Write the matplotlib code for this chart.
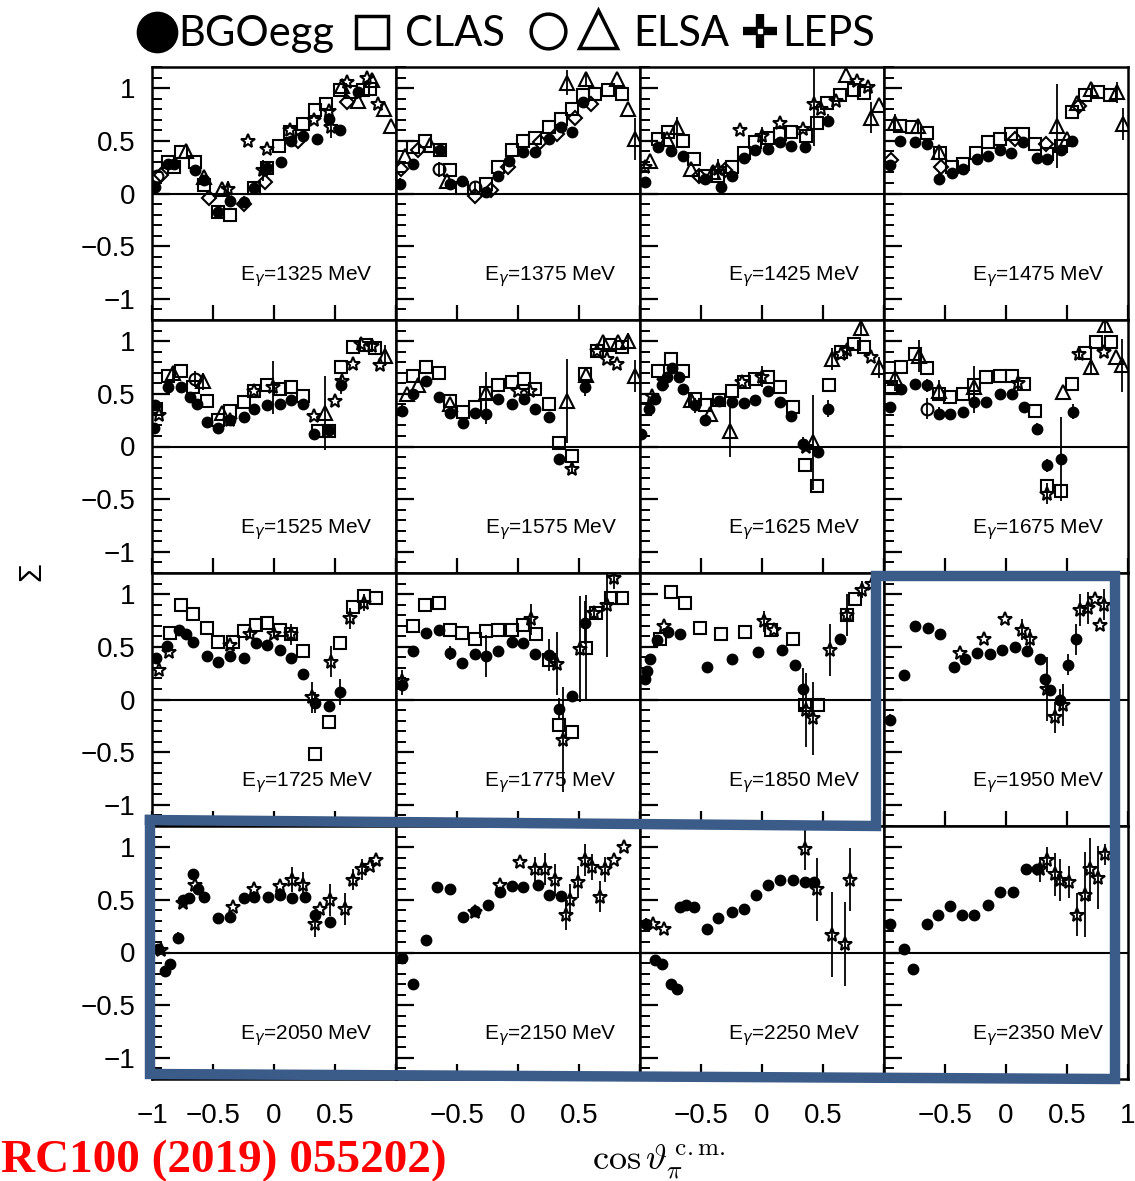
import matplotlib
matplotlib.use("Agg")
import matplotlib.pyplot as plt
from matplotlib.ticker import FixedLocator, MultipleLocator

plt.rcParams['font.family'] = ['Liberation Sans', 'DejaVu Sans']
plt.rcParams['mathtext.fontset'] = 'dejavusans'

energies = [1325, 1375, 1425, 1475,
            1525, 1575, 1625, 1675,
            1725, 1775, 1850, 1950,
            2050, 2150, 2250, 2350]

# beam asymmetry points per energy: (cos theta, Sigma[, error])
bgo = {
    1325: [(-0.975, 0.06, 0.06), (-0.87, 0.28), (-0.82, 0.28), (-0.65, 0.22), (-0.57, 0.13),
           (-0.46, -0.18), (-0.36, -0.07), (-0.25, -0.08), (-0.16, 0.05), (-0.06, 0.24),
           (0.06, 0.30), (0.14, 0.50), (0.24, 0.55), (0.35, 0.52), (0.45, 0.71), (0.54, 0.60),
           (0.69, 0.96)],
    1375: [(-0.97, 0.09, 0.06), (-0.86, 0.28), (-0.64, 0.41), (-0.56, 0.09, 0.05), (-0.46, 0.12),
           (-0.26, 0.01), (-0.16, 0.17), (-0.07, 0.31), (0.04, 0.39), (0.14, 0.39), (0.25, 0.52),
           (0.35, 0.63), (0.44, 0.58, 0.05), (0.53, 0.87, 0.05)],
    1425: [(-0.96, 0.11, 0.05), (-0.85, 0.44), (-0.75, 0.40), (-0.645, 0.36), (-0.47, 0.14),
           (-0.34, 0.06), (-0.25, 0.17), (-0.15, 0.34), (-0.06, 0.41), (0.05, 0.42), (0.15, 0.49),
           (0.24, 0.45), (0.35, 0.44), (0.54, 0.69, 0.06)],
    1475: [(-0.95, 0.27, 0.05), (-0.87, 0.50), (-0.75, 0.49), (-0.65, 0.47), (-0.55, 0.14, 0.05),
           (-0.445, 0.19), (-0.35, 0.23), (-0.24, 0.33), (-0.15, 0.36), (-0.05, 0.41), (0.04, 0.38),
           (0.14, 0.49), (0.25, 0.34), (0.34, 0.33), (0.45, 0.41), (0.54, 0.50, 0.05)],
    1525: [(-0.98, 0.18), (-0.975, 0.39), (-0.87, 0.56), (-0.76, 0.56), (-0.69, 0.47), (-0.63, 0.40),
           (-0.55, 0.23, 0.05), (-0.46, 0.18), (-0.36, 0.25), (-0.25, 0.28), (-0.16, 0.36),
           (-0.06, 0.39), (0.05, 0.40), (0.14, 0.44), (0.24, 0.40), (0.33, 0.12), (0.45, 0.16),
           (0.55, 0.58, 0.08)],
    1575: [(-0.95, 0.34, 0.05), (-0.86, 0.50), (-0.75, 0.62), (-0.65, 0.47), (-0.56, 0.32, 0.05),
           (-0.45, 0.22), (-0.35, 0.32), (-0.26, 0.31, 0.1), (-0.16, 0.45), (-0.05, 0.40),
           (0.05, 0.45), (0.14, 0.36), (0.25, 0.28), (0.34, -0.12, 0.05), (0.55, 0.56, 0.08)],
    1625: [(-0.99, 0.12), (-0.93, 0.36), (-0.88, 0.45), (-0.82, 0.58), (-0.78, 0.66), (-0.74, 0.74),
           (-0.68, 0.66), (-0.65, 0.55), (-0.55, 0.39, 0.07), (-0.47, 0.25), (-0.35, 0.43),
           (-0.25, 0.42), (-0.15, 0.41), (-0.06, 0.44), (0.05, 0.53), (0.15, 0.42), (0.24, 0.29),
           (0.34, 0.02, 0.07), (0.46, -0.05, 0.06), (0.54, 0.36, 0.08)],
    1675: [(-0.95, 0.37, 0.05), (-0.86, 0.55), (-0.75, 0.59), (-0.65, 0.58, 0.06), (-0.55, 0.31, 0.06),
           (-0.46, 0.31), (-0.35, 0.33), (-0.26, 0.42, 0.1), (-0.16, 0.42), (-0.05, 0.50),
           (0.05, 0.50), (0.15, 0.37), (0.25, 0.17, 0.05), (0.34, -0.18, 0.06), (0.45, -0.12, 0.4),
           (0.55, 0.33, 0.07)],
    1725: [(-0.97, 0.39), (-0.88, 0.51), (-0.78, 0.66), (-0.72, 0.62), (-0.66, 0.55), (-0.55, 0.41, 0.05),
           (-0.46, 0.36), (-0.36, 0.41), (-0.25, 0.39), (-0.15, 0.54), (-0.06, 0.52), (0.05, 0.47),
           (0.14, 0.39), (0.24, 0.24, 0.05), (0.34, -0.03, 0.1), (0.45, -0.06, 0.06), (0.54, 0.07, 0.12)],
    1775: [(-0.95, 0.14, 0.1), (-0.86, 0.46), (-0.75, 0.63), (-0.65, 0.66), (-0.56, 0.44, 0.07),
           (-0.46, 0.35), (-0.35, 0.43), (-0.26, 0.41, 0.2), (-0.16, 0.46), (-0.05, 0.55), (0.04, 0.54),
           (0.14, 0.43), (0.25, 0.42, 0.15), (0.34, -0.09, 0.1), (0.44, 0.03, 0.05), (0.55, 0.73, 0.2)],
    1850: [(-0.96, 0.19), (-0.94, 0.27), (-0.92, 0.38), (-0.86, 0.56), (-0.77, 0.64), (-0.67, 0.62),
           (-0.45, 0.31), (-0.25, 0.38), (-0.03, 0.45), (0.16, 0.47), (0.27, 0.33), (0.34, 0.10, 0.2),
           (0.64, 0.57)],
    1950: [(-0.95, -0.19, 0.05), (-0.84, 0.23), (-0.75, 0.70), (-0.64, 0.68), (-0.54, 0.62), (-0.43, 0.31),
           (-0.34, 0.38), (-0.24, 0.44), (-0.13, 0.43), (-0.03, 0.47), (0.07, 0.50), (0.17, 0.46),
           (0.28, 0.38), (0.32, 0.19), (0.36, 0.09), (0.44, 0.0, 0.1), (0.51, 0.33, 0.1), (0.57, 0.57, 0.15)],
    2050: [(-0.95, 0.03), (-0.89, -0.18), (-0.85, -0.11), (-0.79, 0.14, 0.05), (-0.75, 0.50), (-0.70, 0.52),
           (-0.66, 0.74), (-0.62, 0.60), (-0.57, 0.53), (-0.46, 0.33), (-0.36, 0.34), (-0.25, 0.52),
           (-0.16, 0.53), (-0.05, 0.53), (0.05, 0.55), (0.15, 0.52), (0.25, 0.53), (0.34, 0.36), (0.46, 0.29)],
    2150: [(-0.95, -0.05, 0.05), (-0.86, -0.30), (-0.75, 0.12), (-0.66, 0.62), (-0.56, 0.60), (-0.45, 0.34),
           (-0.35, 0.39), (-0.25, 0.45), (-0.15, 0.57), (-0.05, 0.63), (0.04, 0.62), (0.16, 0.64),
           (0.25, 0.55), (0.35, 0.54)],
    2250: [(-0.95, 0.27, 0.06), (-0.88, -0.07), (-0.82, -0.11), (-0.75, -0.30), (-0.70, -0.35), (-0.67, 0.43),
           (-0.62, 0.45), (-0.56, 0.43), (-0.45, 0.22), (-0.36, 0.33), (-0.25, 0.38), (-0.15, 0.41),
           (-0.05, 0.55), (0.05, 0.64), (0.15, 0.69), (0.25, 0.69), (0.35, 0.67), (0.43, 0.67)],
    2350: [(-0.95, 0.27), (-0.84, 0.03), (-0.76, -0.16), (-0.65, 0.27), (-0.56, 0.36), (-0.46, 0.44),
           (-0.36, 0.36), (-0.26, 0.36), (-0.15, 0.45), (-0.05, 0.57), (0.06, 0.57), (0.16, 0.79),
           (0.25, 0.79)],
}

clas = {
    1325: [(-0.87, 0.30), (-0.82, 0.25), (-0.76, 0.39), (-0.65, 0.30), (-0.57, 0.08), (-0.46, -0.18),
           (-0.36, -0.20), (-0.16, 0.05), (-0.06, 0.24), (0.04, 0.45), (0.13, 0.58), (0.24, 0.66),
           (0.34, 0.79), (0.43, 0.85), (0.54, 0.98), (0.63, 0.96), (0.73, 0.98), (0.79, 0.99)],
    1375: [(-0.86, 0.44), (-0.76, 0.50), (-0.64, 0.41), (-0.56, 0.22), (-0.46, 0.05), (-0.26, 0.09),
           (-0.16, 0.25), (-0.05, 0.41), (0.04, 0.50), (0.14, 0.53), (0.25, 0.63), (0.35, 0.71),
           (0.44, 0.80), (0.53, 0.93), (0.63, 0.94), (0.74, 0.98), (0.85, 0.94)],
    1425: [(-0.85, 0.52), (-0.77, 0.58), (-0.645, 0.50), (-0.56, 0.33), (-0.47, 0.17), (-0.36, 0.17),
           (-0.25, 0.25), (-0.15, 0.38), (-0.06, 0.49), (0.05, 0.53), (0.15, 0.56), (0.24, 0.58),
           (0.36, 0.55), (0.45, 0.67), (0.53, 0.86), (0.64, 0.93), (0.75, 0.98), (0.84, 0.95)],
    1475: [(-0.87, 0.64), (-0.77, 0.63), (-0.65, 0.57), (-0.54, 0.38), (-0.445, 0.25), (-0.35, 0.28),
           (-0.25, 0.38), (-0.15, 0.49), (-0.05, 0.52), (0.04, 0.56), (0.14, 0.56), (0.24, 0.47),
           (0.34, 0.37), (0.45, 0.45), (0.54, 0.77), (0.65, 0.93), (0.75, 0.96), (0.85, 0.93)],
    1525: [(-0.97, 0.36), (-0.87, 0.67), (-0.76, 0.72), (-0.66, 0.56), (-0.55, 0.43), (-0.46, 0.25),
           (-0.36, 0.34), (-0.25, 0.42), (-0.16, 0.53), (-0.06, 0.58), (0.05, 0.55), (0.14, 0.56),
           (0.24, 0.48), (0.36, 0.15), (0.45, 0.15), (0.55, 0.75), (0.65, 0.94), (0.75, 0.96), (0.83, 0.93)],
    1575: [(-0.86, 0.67), (-0.75, 0.75), (-0.65, 0.70), (-0.56, 0.43), (-0.45, 0.33), (-0.35, 0.37),
           (-0.26, 0.51), (-0.16, 0.58), (-0.05, 0.61), (0.05, 0.64), (0.14, 0.55), (0.25, 0.40),
           (0.34, 0.03), (0.44, -0.09), (0.55, 0.69), (0.65, 0.91), (0.75, 0.96), (0.85, 0.94)],
    1625: [(-0.96, 0.36), (-0.85, 0.72), (-0.75, 0.83), (-0.65, 0.72), (-0.55, 0.45), (-0.47, 0.39),
           (-0.35, 0.44), (-0.25, 0.53), (-0.15, 0.61), (-0.06, 0.64), (0.05, 0.66), (0.15, 0.56),
           (0.25, 0.37), (0.35, -0.18), (0.45, -0.37), (0.55, 0.58), (0.65, 0.90), (0.75, 0.97), (0.84, 0.94)],
    1675: [(-0.94, 0.56), (-0.86, 0.75), (-0.75, 0.88), (-0.65, 0.74), (-0.55, 0.50), (-0.46, 0.47),
           (-0.35, 0.50), (-0.26, 0.58), (-0.16, 0.66), (-0.05, 0.67), (0.05, 0.67), (0.15, 0.59),
           (0.24, 0.34), (0.34, -0.37), (0.45, -0.42), (0.54, 0.59), (0.65, 0.89), (0.74, 0.99), (0.86, 0.99)],
    1725: [(-0.85, 0.63), (-0.76, 0.90), (-0.66, 0.81), (-0.55, 0.68), (-0.46, 0.55), (-0.34, 0.55),
           (-0.25, 0.65), (-0.15, 0.71), (-0.06, 0.73), (0.05, 0.66), (0.14, 0.62), (0.24, 0.46),
           (0.34, -0.52), (0.45, -0.21), (0.54, 0.54), (0.65, 0.88), (0.74, 0.98), (0.84, 0.96)],
    1775: [(-0.86, 0.70), (-0.76, 0.90), (-0.65, 0.92), (-0.56, 0.66), (-0.46, 0.63), (-0.35, 0.57),
           (-0.26, 0.65), (-0.16, 0.66), (-0.05, 0.66), (0.04, 0.71), (0.15, 0.62), (0.25, 0.37),
           (0.34, -0.24), (0.44, -0.31), (0.56, 0.49, 0.5), (0.64, 0.82), (0.76, 0.96), (0.85, 0.96)],
    1850: [(-0.84, 0.57), (-0.75, 1.02), (-0.63, 0.92), (-0.51, 0.68), (-0.34, 0.62), (-0.14, 0.64),
           (0.07, 0.66), (0.25, 0.57), (0.35, -0.05), (0.46, -0.05), (0.70, 0.80), (0.76, 0.95)],
}

elsa_circle = {
    1325: [(-0.96, 0.17)],
    1375: [(-0.65, 0.23, 0.07), (-0.35, 0.06, 0.06)],
    1525: [(-0.65, 0.64, 0.08)],
    1675: [(-0.65, 0.36, 0.1)],
}

elsa_triangle = {
    1325: [(-0.72, 0.40), (-0.57, 0.16), (-0.43, 0.04), (0.56, 1.02), (0.69, 0.88), (0.80, 1.08),
           (0.90, 0.80), (0.96, 0.64)],
    1375: [(-0.93, 0.36), (-0.72, 0.46), (-0.58, 0.12), (0.40, 1.05, 0.12), (0.56, 1.09, 0.06),
           (0.81, 1.09), (0.90, 0.80), (0.96, 0.52, 0.2)],
    1425: [(-0.92, 0.31), (-0.78, 0.52), (-0.70, 0.63, 0.1), (-0.58, 0.23), (-0.40, 0.20),
           (0.69, 1.12), (0.89, 0.72, 0.15), (0.96, 0.84)],
    1475: [(-0.91, 0.67, 0.08), (-0.72, 0.64, 0.07), (-0.55, 0.39, 0.07), (0.42, 0.64, 0.4),
           (0.50, 0.52), (0.58, 0.86), (0.70, 0.99), (0.91, 0.96, 0.1), (0.96, 0.66, 0.15)],
    1525: [(-0.825, 0.70, 0.06), (-0.58, 0.62, 0.08), (-0.43, 0.32), (0.42, 0.32, 0.35),
           (0.91, 0.86, 0.1)],
    1575: [(-0.91, 0.50), (-0.82, 0.58), (-0.56, 0.40), (-0.26, 0.51, 0.2), (0.40, 0.43, 0.4),
           (0.56, 0.68), (0.70, 0.99), (0.82, 0.99), (0.90, 1.0, 0.08), (0.96, 0.67, 0.15)],
    1625: [(-0.58, 0.44, 0.06), (-0.43, 0.31), (-0.26, 0.15, 0.25), (0.42, 0.04, 0.45),
           (0.57, 0.83, 0.1), (0.81, 1.12, 0.05), (0.96, 0.75, 0.1)],
    1675: [(-0.91, 0.65, 0.12), (-0.71, 0.86, 0.15), (-0.55, 0.53, 0.1), (-0.26, 0.56, 0.2),
           (0.47, 0.52), (0.70, 0.75, 0.06), (0.81, 1.15, 0.05), (0.90, 0.85), (0.95, 0.77, 0.25)],
}

# diamonds: another data set shown in the low-energy panels
other_diamond = {
    1325: [(-0.93, 0.18), (-0.53, -0.04), (-0.25, -0.10), (-0.07, 0.11), (0.20, 0.50), (0.60, 0.87)],
    1375: [(-0.96, 0.23), (-0.82, 0.41), (-0.35, -0.02), (-0.22, 0.03), (-0.08, 0.25), (0.18, 0.49),
           (0.32, 0.56), (0.47, 0.72), (0.60, 0.85)],
    1425: [(-0.52, 0.17), (-0.30, 0.22)],
    1475: [(-0.94, 0.32), (-0.53, 0.25), (0.07, 0.52), (0.33, 0.47), (0.60, 0.83)],
}

leps = {
    1325: [(-0.375, 0.04, 0.08), (-0.21, 0.50), (-0.06, 0.42), (-0.09, 0.22, 0.1), (0.13, 0.60),
           (0.33, 0.70), (0.47, 0.63, 0.1), (0.45, 0.78), (0.60, 1.06), (0.76, 1.10), (0.855, 0.85)],
    1425: [(-0.96, 0.25), (-0.36, 0.23, 0.1), (-0.18, 0.60), (0.0, 0.55, 0.08), (0.15, 0.67),
           (0.34, 0.61), (0.43, 0.85, 0.4), (0.48, 0.80), (0.61, 0.88), (0.78, 1.07), (0.87, 1.01)],
    1525: [(-0.94, 0.30), (-0.36, 0.25), (-0.16, 0.53), (-0.006, 0.56, 0.25), (0.33, 0.29),
           (0.50, 0.43), (0.56, 0.62), (0.65, 0.78), (0.71, 0.97), (0.80, 0.95), (0.87, 0.77)],
    1575: [(0.0, 0.53), (0.10, 0.53), (0.44, -0.21, 0.05), (0.65, 0.91), (0.73, 0.83), (0.81, 0.78)],
    1625: [(-0.90, 0.48), (-0.80, 0.62), (-0.16, 0.61), (0.0, 0.66, 0.1), (0.36, 0.0), (0.65, 0.88),
           (0.70, 0.92), (0.89, 0.85)],
    1675: [(0.10, 0.60), (0.34, -0.45, 0.1), (0.60, 0.88), (0.80, 0.90)],
    1725: [(-0.94, 0.28), (-0.86, 0.45), (-0.36, 0.52), (-0.20, 0.62), (0.0, 0.62), (0.14, 0.62, 0.1),
           (0.31, 0.02, 0.15), (0.47, 0.36, 0.15), (0.62, 0.77, 0.1), (0.74, 0.92, 0.08)],
    1775: [(-0.95, 0.18, 0.1), (0.11, 0.76, 0.15), (0.32, 0.34, 0.3), (0.37, -0.38, 0.5),
           (0.51, 0.48, 0.5), (0.62, 0.82, 0.05), (0.73, 0.90, 0.5), (0.79, 1.15, 0.1)],
    1850: [(-0.80, 0.70), (0.02, 0.74, 0.1), (0.10, 0.66), (0.36, -0.10, 0.35), (0.42, -0.18, 0.35),
           (0.56, 0.47, 0.25), (0.70, 0.80, 0.2), (0.82, 1.04, 0.08), (0.90, 1.10, 0.2)],
    1950: [(-0.38, 0.44), (-0.18, 0.57), (-0.01, 0.76), (0.13, 0.66, 0.1), (0.20, 0.57, 0.1),
           (0.34, 0.10, 0.3), (0.40, -0.17, 0.15), (0.47, -0.05, 0.2), (0.61, 0.85, 0.15),
           (0.67, 0.87, 0.15), (0.73, 0.95), (0.77, 0.71), (0.80, 0.90, 0.15)],
    2050: [(-0.93, 0.02), (-0.75, 0.47), (-0.65, 0.64), (-0.34, 0.43), (-0.16, 0.60), (0.05, 0.63),
           (0.15, 0.69, 0.12), (0.24, 0.64, 0.12), (0.34, 0.27, 0.12), (0.38, 0.41), (0.46, 0.50, 0.15),
           (0.58, 0.41, 0.15), (0.65, 0.69, 0.1), (0.72, 0.79, 0.1), (0.79, 0.82), (0.84, 0.88)],
    2150: [(-0.35, 0.38), (-0.15, 0.64), (0.02, 0.86), (0.14, 0.79, 0.12), (0.22, 0.79, 0.15),
           (0.30, 0.69, 0.15), (0.39, 0.36, 0.15), (0.43, 0.50, 0.15), (0.49, 0.67, 0.15),
           (0.55, 0.88, 0.15), (0.61, 0.81, 0.12), (0.67, 0.53, 0.15), (0.71, 0.79, 0.12),
           (0.79, 0.88), (0.87, 1.0)],
    2250: [(-0.89, 0.27), (-0.80, 0.22), (0.35, 0.98, 0.2), (0.45, 0.60, 0.3), (0.57, 0.17, 0.4),
           (0.68, 0.08, 0.4), (0.72, 0.69, 0.3)],
    2350: [(0.28, 0.79, 0.12), (0.34, 0.88, 0.12), (0.40, 0.74, 0.2), (0.44, 0.69, 0.2),
           (0.52, 0.67, 0.15), (0.58, 0.36, 0.2), (0.65, 0.55, 0.4), (0.69, 0.79, 0.3),
           (0.75, 0.71, 0.3), (0.81, 0.93, 0.1)],
}

W, H = 1135, 1181
col_left = [152, 396, 640, 884]
row_top = [67, 320, 573, 826]
pw, ph = 244, 253


def plot_set(ax, pts, marker, ms, face, z):
    if not pts:
        return
    xs = [p[0] for p in pts]
    ys = [p[1] for p in pts]
    es = [p[2] if len(p) > 2 else 0.0 for p in pts]
    ax.errorbar(xs, ys, yerr=es, fmt=marker, ms=ms, mfc=face, mec='k', mew=1.5,
                ecolor='k', elinewidth=1.3, capsize=0, zorder=z)


fig = plt.figure(figsize=(W / 100, H / 100), dpi=100)

for i, e in enumerate(energies):
    r, c = divmod(i, 4)
    ax = fig.add_axes([col_left[c] / W, 1 - (row_top[r] + ph) / H, pw / W, ph / H])
    ax.set_xlim(-1, 1)
    ax.set_ylim(-1.2, 1.2)
    ax.axhline(0, color='k', lw=1.5, zorder=1)

    plot_set(ax, clas.get(e), 's', 9, 'none', 3)
    plot_set(ax, elsa_triangle.get(e), '^', 9.5, 'none', 3)
    plot_set(ax, elsa_circle.get(e), 'o', 8.5, 'none', 3)
    plot_set(ax, other_diamond.get(e), 'D', 7, 'none', 3)
    plot_set(ax, leps.get(e), '*', 10, 'none', 4)
    plot_set(ax, bgo.get(e), 'o', 7, 'k', 5)

    ax.text(0.81, -0.79, 'E$_{\\gamma}$=%d MeV' % e, ha='right', va='center', fontsize=15)

    for s in ax.spines.values():
        s.set_linewidth(1.8)
    ax.xaxis.set_major_locator(FixedLocator([-1, -0.5, 0, 0.5, 1]))
    ax.yaxis.set_major_locator(FixedLocator([-1, -0.5, 0, 0.5, 1]))
    ax.yaxis.set_minor_locator(MultipleLocator(0.1))
    ax.tick_params(which='both', direction='in', top=False, right=False, labelsize=20)
    ax.tick_params(axis='y', which='major', length=13, width=1.6, pad=12)
    ax.tick_params(axis='y', which='minor', length=7, width=1.4)
    ax.tick_params(axis='x', which='major', length=11, width=1.6, pad=17)

    if c == 0:
        ax.set_yticklabels(['\u22121', '\u22120.5', '0', '0.5', '1'])
    else:
        ax.tick_params(axis='y', labelleft=False)
    if r == 3:
        labels = ['', '\u22120.5', '0', '0.5', '']
        if c == 0:
            labels[0] = '\u22121'
        if c == 3:
            labels[4] = '1'
        ax.set_xticklabels(labels)
    else:
        ax.tick_params(axis='x', labelbottom=False)

# overlay in pixel coordinates for the header, labels and frame
ov = fig.add_axes([0, 0, 1, 1], zorder=10)
ov.set_xlim(0, W)
ov.set_ylim(H, 0)
ov.axis('off')

hdr = ['Lato', 'DejaVu Sans']
ov.plot(157, 32, 'o', ms=29, mfc='k', mec='k')
ov.text(178, 34, 'BGOegg', fontsize=30, family=hdr, va='center', ha='left')
ov.plot(372, 32, 's', ms=23, mfc='none', mec='k', mew=2.5)
ov.text(405, 34, 'CLAS', fontsize=30, family=hdr, va='center', ha='left')
ov.plot(548, 31, 'o', ms=25, mfc='none', mec='k', mew=2.5)
ov.plot(598, 29, '^', ms=27, mfc='none', mec='k', mew=2.5)
ov.text(633, 34, 'ELSA', fontsize=30, family=hdr, va='center', ha='left')
ov.plot(760, 31, '+', ms=25, mec='k', mew=6)
ov.plot(760, 31, 's', ms=3, mfc='white', mec='white')
ov.text(782, 34, 'LEPS', fontsize=30, family=hdr, va='center', ha='left')

ov.text(32, 572, '\u03a3', fontsize=22, rotation=90, ha='center', va='center')
ov.text(592, 1162, r'$\cos\vartheta_{\pi}^{\,\mathrm{c.m.}}$', fontsize=26,
        ha='left', va='center', math_fontfamily='cm')
ov.text(1, 1161, 'RC100 (2019) 055202)', fontsize=34, color='red', weight='bold',
        family=['Liberation Serif', 'DejaVu Serif'], ha='left', va='center')

# highlight frame around the high-energy panels
fx = [150, 876, 876, 1115, 1115, 150, 150]
fy = [820, 826, 576, 576, 1079, 1074, 820]
ov.plot(fx, fy, color='#3b5b88', lw=7.5, solid_joinstyle='miter', solid_capstyle='projecting')

fig.savefig('out.png', dpi=100)
